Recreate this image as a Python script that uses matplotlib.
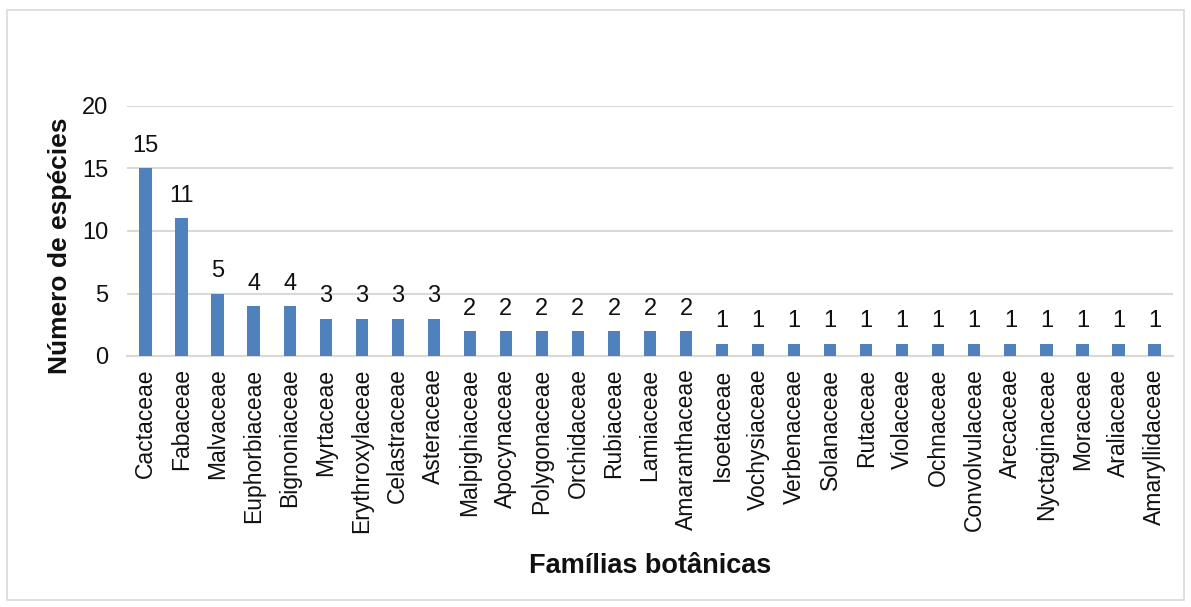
import matplotlib

matplotlib.use("Agg")

import matplotlib.pyplot as plt
from matplotlib.patches import Rectangle

plt.rcParams["font.family"] = ["Liberation Sans", "DejaVu Sans"]

families = [
    "Cactaceae", "Fabaceae", "Malvaceae", "Euphorbiaceae", "Bignoniaceae",
    "Myrtaceae", "Erythroxylaceae", "Celastraceae", "Asteraceae", "Malpighiaceae",
    "Apocynaceae", "Polygonaceae", "Orchidaceae", "Rubiaceae", "Lamiaceae",
    "Amaranthaceae", "Isoetaceae", "Vochysiaceae", "Verbenaceae", "Solanaceae",
    "Rutaceae", "Violaceae", "Ochnaceae", "Convolvulaceae", "Arecaceae",
    "Nyctaginaceae", "Moraceae", "Araliaceae", "Amaryllidaceae",
]
species = [15, 11, 5, 4, 4, 3, 3, 3, 3, 2, 2, 2, 2, 2, 2, 2,
           1, 1, 1, 1, 1, 1, 1, 1, 1, 1, 1, 1, 1]
y_ticks = [0, 5, 10, 15, 20]

BAR_COLOR = "#4F81BD"
GRID_COLOR = "#D9D9D9"
TEXT_COLOR = "#111111"

fig = plt.figure(figsize=(11.91, 6.07), dpi=100)
fig.patches.append(Rectangle((7 / 1191, 7 / 607), 1177 / 1191, 590 / 607,
                             transform=fig.transFigure, fill=False,
                             edgecolor=GRID_COLOR, linewidth=1.2))

ax = fig.add_axes([127.5 / 1191, 1 - 356 / 607, 1045 / 1191, 250 / 607])
x = list(range(len(families)))
ax.bar(x, species, width=0.34, color=BAR_COLOR, zorder=3)

for xi, val in zip(x, species):
    ax.annotate(str(val), (xi, val), xytext=(0, 8), textcoords="offset points",
                ha="center", va="bottom", fontsize=17, color=TEXT_COLOR)

ax.set_xlim(-0.5, len(families) - 0.5)
ax.set_ylim(0, 20)
ax.set_yticks(y_ticks)
ax.set_xticks(x)
ax.set_xticklabels(families, rotation=90, fontsize=16.5, color=TEXT_COLOR)
ax.tick_params(axis="y", labelsize=17, labelcolor=TEXT_COLOR, length=0, pad=14)
ax.tick_params(axis="x", length=0, pad=9)
ax.yaxis.grid(True, color=GRID_COLOR, linewidth=1.5, zorder=0)
for side in ["top", "right", "left"]:
    ax.spines[side].set_visible(False)
ax.spines["bottom"].set_color(GRID_COLOR)
ax.spines["bottom"].set_linewidth(1.5)

fig.text(60 / 1191, 1 - 246 / 607, "Número de espécies", fontsize=19,
         fontweight="bold", rotation=90, ha="center", va="center", color=TEXT_COLOR)
fig.text(650 / 1191, 1 - 566 / 607, "Famílias botânicas", fontsize=19.5,
         fontweight="bold", ha="center", va="center", color=TEXT_COLOR)

fig.savefig("out.png", dpi=100)
